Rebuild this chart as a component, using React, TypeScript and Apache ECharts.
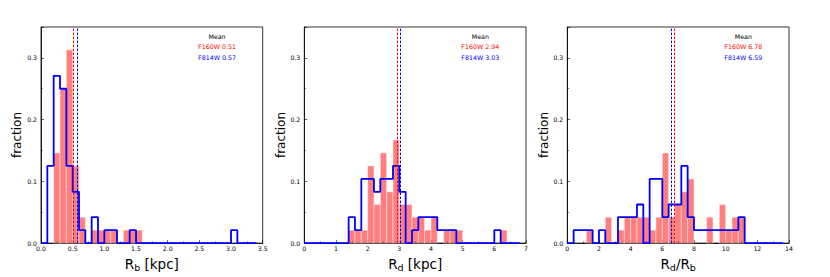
import React, { useEffect, useRef } from "react";
import * as echarts from "echarts";

// ---- data (fractions per bin) ----
const rbBinStart = 0;
const rbBinWidth = 0.1;
const rbF160W = [0, 0, 0.146, 0.25, 0.313, 0.125, 0.042, 0, 0.021, 0.021, 0.021, 0.021, 0, 0.021, 0.021, 0.021, 0, 0, 0, 0, 0, 0, 0, 0, 0, 0, 0, 0, 0, 0, 0, 0, 0, 0];
const rbF814W = [0, 0.125, 0.271, 0.25, 0.125, 0.083, 0.021, 0, 0.042, 0, 0.021, 0.021, 0, 0, 0.021, 0, 0, 0, 0, 0, 0, 0, 0, 0, 0, 0, 0, 0, 0, 0, 0.021, 0, 0, 0];

const rdBinStart = 0;
const rdBinWidth = 0.2;
const rdF160W = [0, 0, 0, 0, 0, 0, 0, 0.021, 0.021, 0.021, 0.125, 0.0625, 0.146, 0.083, 0.167, 0.0625, 0.0625, 0.042, 0.042, 0.021, 0.042, 0, 0.021, 0.021, 0.021, 0, 0, 0, 0, 0, 0, 0.021, 0, 0];
const rdF814W = [0, 0, 0, 0, 0, 0, 0, 0.042, 0.021, 0.104, 0.104, 0.083, 0.104, 0.104, 0.125, 0.083, 0, 0.021, 0.042, 0.042, 0.042, 0.021, 0.021, 0.021, 0, 0, 0, 0, 0, 0, 0.021, 0, 0, 0];

const ratioBinStart = 0;
const ratioBinWidth = 0.4;
const ratioF160W = [0, 0, 0, 0.021, 0, 0, 0.042, 0, 0.021, 0.042, 0.042, 0.042, 0.042, 0.021, 0.042, 0.146, 0.042, 0.0625, 0.083, 0.104, 0, 0, 0.042, 0, 0.0625, 0.021, 0.042, 0.042, 0, 0, 0, 0, 0, 0];
const ratioF814W = [0, 0.021, 0.021, 0.021, 0, 0.021, 0, 0, 0.042, 0.042, 0.042, 0.0625, 0, 0.104, 0.104, 0.042, 0.0625, 0.0625, 0.125, 0.042, 0.021, 0.021, 0.021, 0.021, 0.021, 0.021, 0.021, 0.042, 0, 0, 0, 0, 0, 0];

const meanRb = [0.51, 0.57]; // F160W, F814W
const meanRd = [2.94, 3.03];
const meanRatio = [6.78, 6.59];

const xMaxes = [3.5, 7, 14];
const xIntervals = [0.5, 1, 2];
const xDecimals = [1, 0, 0];
const yMax = 0.35;

const FONT = "DejaVu Sans";

const panels = [
  { start: rbBinStart, width: rbBinWidth, red: rbF160W, blue: rbF814W, mean: meanRb, name: "R{sub|b} [kpc]" },
  { start: rdBinStart, width: rdBinWidth, red: rdF160W, blue: rdF814W, mean: meanRd, name: "R{sub|d} [kpc]" },
  { start: ratioBinStart, width: ratioBinWidth, red: ratioF160W, blue: ratioF814W, mean: meanRatio, name: "R{sub|d}/R{sub|b}" },
];

const gridLefts = [41, 304.3, 567.3];
const gridTop = 27;
const gridW = 221.7;
const gridH = 221.7;

function stepPoints(start: number, w: number, vals: number[]) {
  const pts: number[][] = [[start, 0]];
  vals.forEach((v, i) => {
    const x0 = +(start + i * w).toFixed(6);
    const x1 = +(start + (i + 1) * w).toFixed(6);
    pts.push([x0, v], [x1, v]);
  });
  pts.push([+(start + vals.length * w).toFixed(6), 0]);
  return pts;
}

export default function App() {
  const ref = useRef<HTMLDivElement>(null);
  useEffect(() => {
    document.body.style.margin = "0";
    if (!ref.current) return;
    const chart = echarts.init(ref.current, null, { renderer: "svg" });

    const grid: any[] = [];
    const xAxis: any[] = [];
    const yAxis: any[] = [];
    const series: any[] = [];
    const graphic: any[] = [];

    panels.forEach((p, k) => {
      grid.push({
        left: gridLefts[k],
        top: gridTop,
        width: gridW,
        height: gridH,
        show: true,
        borderColor: "#000",
        borderWidth: 0.8,
        backgroundColor: "transparent",
      });
      xAxis.push({
        type: "value",
        gridIndex: k,
        min: 0,
        max: xMaxes[k],
        interval: xIntervals[k],
        name: p.name,
        nameLocation: "middle",
        nameGap: 7,
        nameTextStyle: {
          fontFamily: FONT,
          fontSize: 13.5,
          color: "#000",
          rich: {
            sub: { fontSize: 9.5, fontFamily: FONT, color: "#000", padding: [7, 0, 0, 0] },
          },
        },
        axisLine: { show: true, lineStyle: { color: "#000", width: 0.8 } },
        axisTick: { show: true, inside: true, length: 3, lineStyle: { color: "#000", width: 0.6 } },
        minorTick: { show: true, splitNumber: 2, length: 1.8, lineStyle: { color: "#000", width: 0.5 } },
        splitLine: { show: false },
        axisLabel: {
          fontFamily: FONT,
          fontSize: 6.2,
          color: "#000",
          margin: 2.5,
          formatter: (v: number) => v.toFixed(xDecimals[k]),
        },
      });
      yAxis.push({
        type: "value",
        gridIndex: k,
        min: 0,
        max: yMax,
        interval: 0.1,
        name: "fraction",
        nameLocation: "middle",
        nameGap: 15,
        nameTextStyle: { fontFamily: FONT, fontSize: 12, color: "#000" },
        axisLine: { show: true, lineStyle: { color: "#000", width: 0.8 } },
        axisTick: { show: true, inside: true, length: 3, lineStyle: { color: "#000", width: 0.6 } },
        minorTick: { show: true, splitNumber: 2, length: 1.8, lineStyle: { color: "#000", width: 0.5 } },
        splitLine: { show: false },
        axisLabel: {
          fontFamily: FONT,
          fontSize: 6.2,
          color: "#000",
          margin: 4,
          showMaxLabel: false,
          formatter: (v: number) => v.toFixed(1),
        },
      });

      const barData = p.red
        .map((v, i) => [p.start + i * p.width, p.start + (i + 1) * p.width, v])
        .filter((d) => d[2] > 0);
      series.push({
        type: "custom",
        xAxisIndex: k,
        yAxisIndex: k,
        encode: { x: [0, 1], y: 2 },
        data: barData,
        z: 1,
        renderItem: (params: any, api: any) => {
          const a = api.coord([api.value(0), 0]);
          const b = api.coord([api.value(1), api.value(2)]);
          return {
            type: "rect",
            shape: { x: a[0], y: b[1], width: b[0] - a[0], height: a[1] - b[1] },
            style: { fill: "rgba(255,0,0,0.5)", stroke: "rgba(255,255,255,0.55)", lineWidth: 0.8 },
          };
        },
      });
      series.push({
        type: "line",
        xAxisIndex: k,
        yAxisIndex: k,
        data: stepPoints(p.start, p.width, p.blue),
        showSymbol: false,
        symbol: "none",
        lineStyle: { color: "#0000ff", width: 1.8 },
        z: 3,
        markLine: {
          silent: true,
          symbol: "none",
          label: { show: false },
          data: [
            { xAxis: p.mean[0], lineStyle: { color: "#ff0000", type: [2.5, 1.5], width: 1 } },
            { xAxis: p.mean[1], lineStyle: { color: "#0000ff", type: [2.5, 1.5], width: 1 } },
          ],
        },
      });

      const cx = gridLefts[k] + 176;
      const texts = [
        { t: "Mean", c: "#000", y: 36 },
        { t: `F160W ${p.mean[0].toFixed(2)}`, c: "#ff0000", y: 46.8 },
        { t: `F814W ${p.mean[1].toFixed(2)}`, c: "#0000ff", y: 57.5 },
      ];
      texts.forEach((tt) => {
        graphic.push({
          type: "text",
          x: cx,
          y: tt.y,
          z: 10,
          style: {
            text: tt.t,
            fill: tt.c,
            fontFamily: FONT,
            fontSize: 6.3,
            textAlign: "center",
            textVerticalAlign: "middle",
          },
        });
      });
    });

    chart.setOption({
      animation: false,
      backgroundColor: "#fff",
      grid,
      xAxis,
      yAxis,
      series,
      graphic,
    });
    return () => chart.dispose();
  }, []);
  return <div ref={ref} style={{ width: 830, height: 277 }} />;
}
